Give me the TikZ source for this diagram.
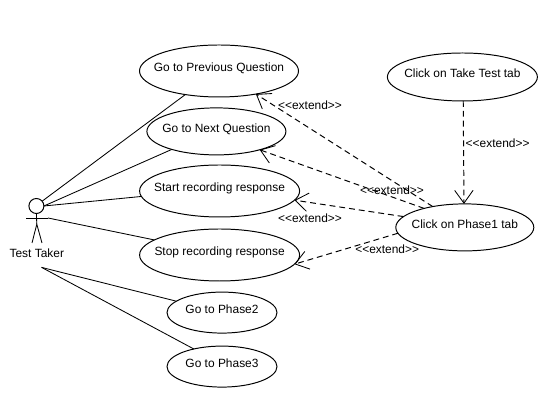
\documentclass[tikz,border=0pt]{standalone}
\usepackage{fontspec}
\setmainfont{Liberation Sans}
\usetikzlibrary{shapes.geometric,arrows.meta,calc}

\begin{document}
\begin{tikzpicture}[
    usecase/.style={ellipse, draw=black, line width=0.7pt, inner ysep=0pt, inner xsep=-1cm, outer sep=0pt, align=center, font=\fontsize{8.5}{10}\selectfont, text height=6pt, text depth=4.8pt},
    assoc/.style={line width=0.6pt},
    extendarrow/.style={-{Straight Barb[length=0.32cm, width=0.46cm, line width=0.6pt]}, line width=0.7pt, dash pattern=on 4.2pt off 2.8pt},
    stereo/.style={font=\fontsize{8.5}{10}\selectfont, inner sep=0pt}
]
\useasboundingbox (0,0) rectangle (13.45,10.025);

% Use cases of the test taker (left column)
\node[usecase, minimum width=3.975cm, minimum height=1.3cm] (prev_q) at (5.475, 8.25) {Go to Previous Question};
\node[usecase, minimum width=3.475cm, minimum height=1.175cm] (next_q) at (5.41, 6.74) {Go to Next Question};
\node[usecase, minimum width=4cm, minimum height=1.3cm] (start_rec) at (5.49, 5.25) {Start recording response};
\node[usecase, minimum width=4cm, minimum height=1.3cm] (stop_rec) at (5.49, 3.65) {Stop recording response};
\node[usecase, minimum width=2.75cm, minimum height=1.025cm] (phase2) at (5.55, 2.21) {Go to Phase2};
\node[usecase, minimum width=2.75cm, minimum height=1.025cm] (phase3) at (5.55, 0.86) {Go to Phase3};

% Use cases on the right
\node[usecase, minimum width=3.75cm, minimum height=1.2cm] (take_test) at (11.56, 8.1) {Click on Take Test tab};
\node[usecase, minimum width=3.45cm, minimum height=1.175cm] (phase1) at (11.62, 4.34) {Click on Phase1 tab};

% Actor
\node[circle, draw=black, line width=0.7pt, minimum size=0.375cm, inner sep=0pt, outer sep=0pt] (head) at (0.91, 4.875) {};
\coordinate (arm_l) at (0.65, 4.575);
\coordinate (arm_r) at (1.2, 4.575);
\coordinate (hip) at (0.92, 4.42);
\coordinate (foot_l) at (0.8, 3.95);
\coordinate (foot_r) at (1.05, 3.95);
\coordinate (below_name) at (1.04, 3.34);
\draw[assoc] (head.south) -- (hip);
\draw[assoc] (arm_l) -- (arm_r);
\draw[assoc] (foot_l) -- (hip) -- (foot_r);
\node[font=\fontsize{8.5}{10}\selectfont, inner sep=0pt] (actor_name) at (0.92, 3.7) {Test Taker};

% Associations
\draw[assoc] (head.40) -- (prev_q.215);
\draw[assoc] (head.east) -- (next_q.202.6);
\draw[assoc] (head.east) -- (start_rec.184.5);
\draw[assoc] (arm_r) -- (stop_rec.167);
\draw[assoc] (below_name) -- (phase2.166);
\draw[assoc] (below_name) -- (phase3.148);

% Extend arrows
\draw[extendarrow] (take_test.-88) -- (phase1.92);
\draw[extendarrow] (phase1.147) -- (prev_q.-32);
\draw[extendarrow] (phase1.155) -- (next_q.-23);
\draw[extendarrow] (phase1.170.4) -- (start_rec.-7.3);
\draw[extendarrow] (phase1.185.4) -- (stop_rec.-7.2);

% Stereotype labels
\node[stereo] (ext_prev) at (7.75, 7.39) {{<}{<}extend{>}{>}};
\node[stereo] (ext_next) at (9.8, 5.28) {{<}{<}extend{>}{>}};
\node[stereo] (ext_start) at (7.75, 4.58) {{<}{<}extend{>}{>}};
\node[stereo] (ext_stop) at (9.68, 3.8) {{<}{<}extend{>}{>}};
\node[stereo] (ext_take) at (12.44, 6.45) {{<}{<}extend{>}{>}};

\end{tikzpicture}
\end{document}
